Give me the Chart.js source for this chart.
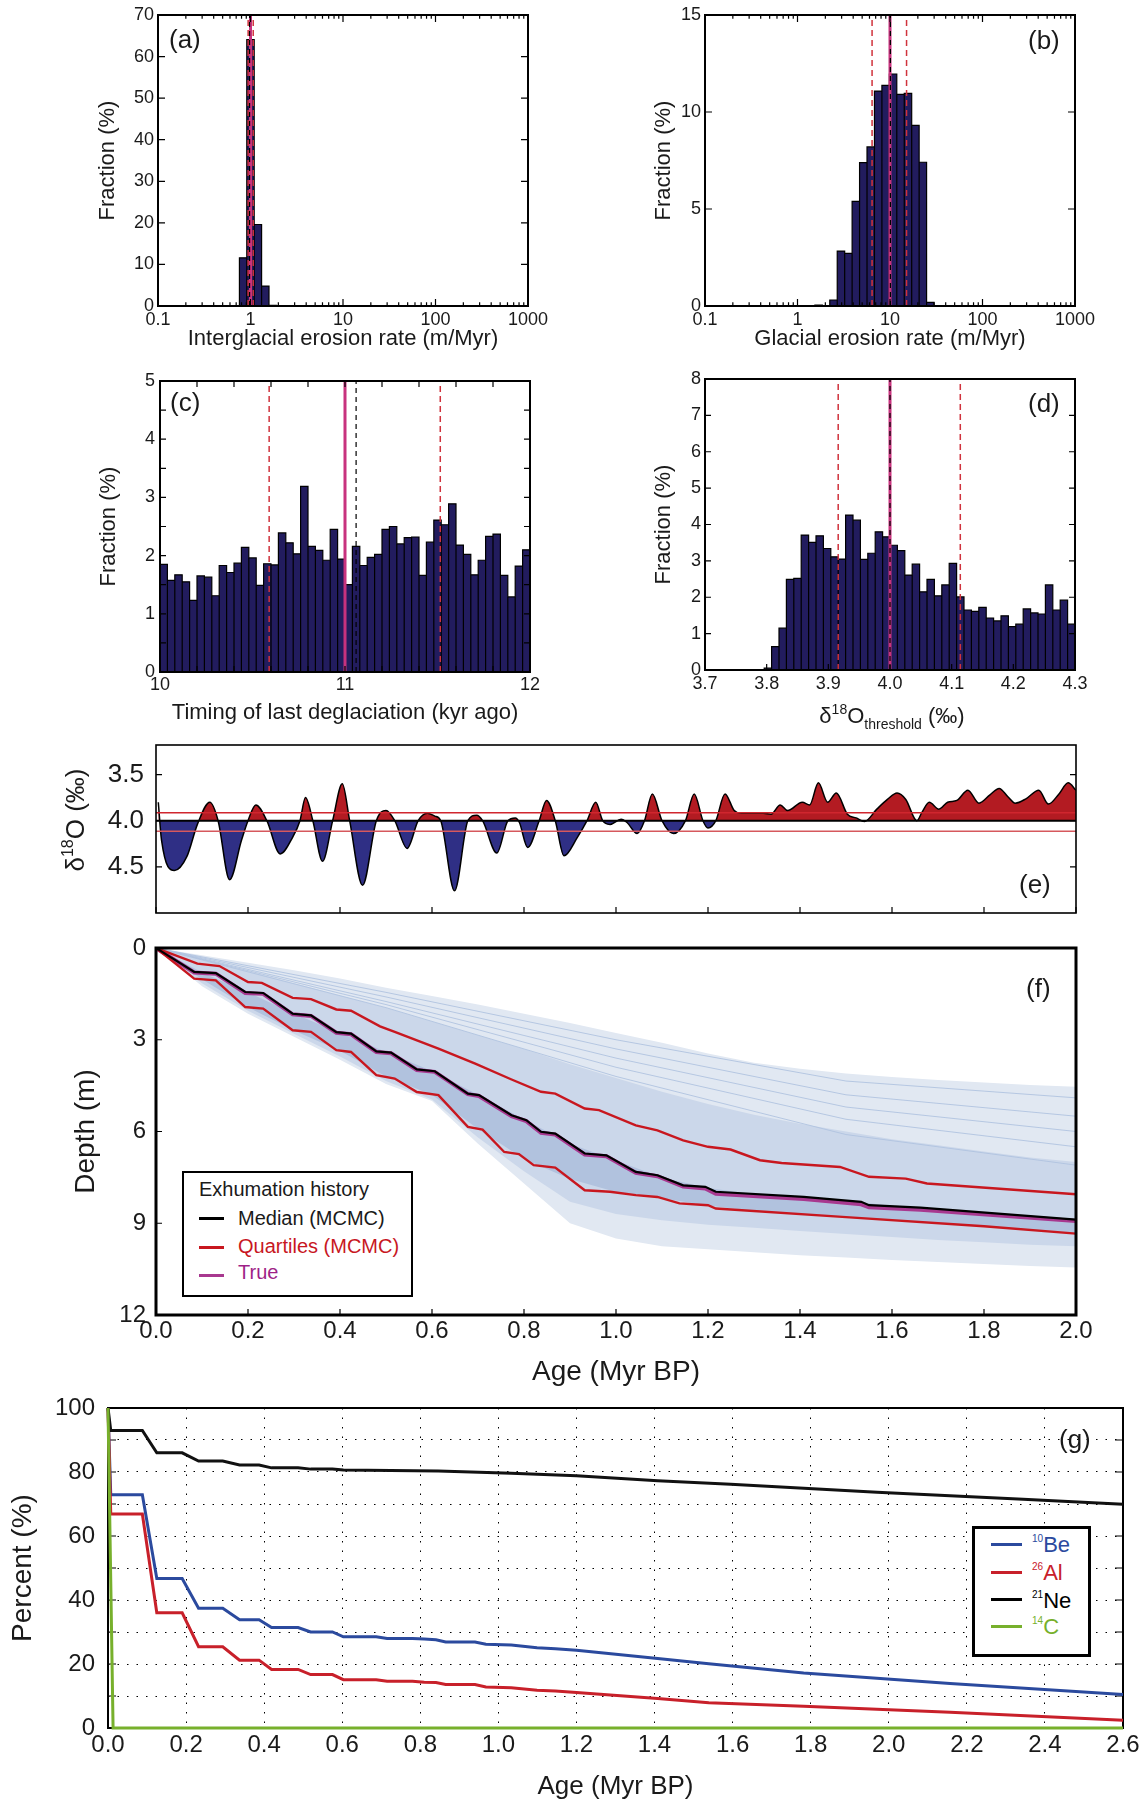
<!DOCTYPE html>
<html lang="en">
<head>
<meta charset="UTF-8">
<title>Exhumation history - MCMC results</title>
<script src="https://cdn.jsdelivr.net/npm/chart.js"></script>
<style>
  body { margin: 0; background: #fff; }
  #page { position: relative; width: 1145px; height: 1804px; overflow: hidden;
          font-family: 'Liberation Sans', Arial, sans-serif; color: #1a1a1a; }
  #page canvas { position: absolute; }
  .t { position: absolute; white-space: nowrap; }
  .tag { font-size: 26px; line-height: 26px; }
  .sw { position: absolute; height: 3px; }
  .sup { position: relative; }
</style>
</head>
<body>
<div id="page">
  <canvas id="ca" width="475" height="360" style="left:85px;top:0px"></canvas>
  <canvas id="cb" width="470" height="360" style="left:630px;top:0px"></canvas>
  <canvas id="cc" width="475" height="375" style="left:85px;top:365px"></canvas>
  <canvas id="cd" width="470" height="377" style="left:630px;top:363px"></canvas>
  <canvas id="ce" width="1145" height="228" style="left:0px;top:715px"></canvas>
  <canvas id="cf" width="1145" height="477" style="left:0px;top:923px"></canvas>
  <canvas id="cg" width="1145" height="424" style="left:0px;top:1380px"></canvas>

  <div class="t tag" style="left:169px;top:26px">(a)</div>
  <div class="t tag" style="left:1028px;top:27px">(b)</div>
  <div class="t tag" style="left:170px;top:389px">(c)</div>
  <div class="t tag" style="left:1028px;top:390px">(d)</div>
  <div class="t tag" style="left:1019px;top:871px">(e)</div>
  <div class="t tag" style="left:1026px;top:975px">(f)</div>
  <div class="t tag" style="left:1059px;top:1426px">(g)</div>

  <!-- axis titles with super/subscripts -->
  <div class="t" style="left:792px;top:705px;width:200px;text-align:center;font-size:22px;line-height:22px">&delta;<span class="sup" style="font-size:14px;top:-9px">18</span>O<span class="sup" style="font-size:14px;top:6px">threshold</span> (&permil;)</div>
  <div class="t" style="left:-23px;top:805px;width:200px;text-align:center;font-size:26px;line-height:26px;transform:rotate(-90deg)">&delta;<span class="sup" style="font-size:16px;top:-11px">18</span>O (&permil;)</div>

  <!-- legend (f) -->
  <div style="position:absolute;left:182px;top:1171px;width:231px;height:126px;border:2.5px solid #000;box-sizing:border-box;background:#fff"></div>
  <div class="t" style="left:199px;top:1179px;font-size:20px;line-height:20px">Exhumation history</div>
  <div class="sw" style="left:199px;top:1217px;width:25px;background:#000"></div>
  <div class="t" style="left:238px;top:1208px;font-size:20px;line-height:20px">Median (MCMC)</div>
  <div class="sw" style="left:199px;top:1246px;width:25px;background:#c8171f"></div>
  <div class="t" style="left:238px;top:1236px;font-size:20px;line-height:20px;color:#c8171f">Quartiles (MCMC)</div>
  <div class="sw" style="left:199px;top:1274px;width:25px;background:#a8388f"></div>
  <div class="t" style="left:238px;top:1262px;font-size:20px;line-height:20px;color:#9e1f87">True</div>

  <!-- legend (g) -->
  <div style="position:absolute;left:972px;top:1526px;width:119px;height:131px;border:3px solid #000;box-sizing:border-box;background:#fff"></div>
  <div class="sw" style="left:991px;top:1543px;width:31px;background:#2b4a9e"></div>
  <div class="t" style="left:1032px;top:1534px;font-size:22px;line-height:22px;color:#2b4a9e"><span class="sup" style="font-size:10px;top:-10px">10</span>Be</div>
  <div class="sw" style="left:991px;top:1571px;width:31px;background:#c8202a"></div>
  <div class="t" style="left:1032px;top:1562px;font-size:22px;line-height:22px;color:#c8202a"><span class="sup" style="font-size:10px;top:-10px">26</span>Al</div>
  <div class="sw" style="left:991px;top:1598px;width:31px;background:#000"></div>
  <div class="t" style="left:1032px;top:1590px;font-size:22px;line-height:22px;color:#000"><span class="sup" style="font-size:10px;top:-10px">21</span>Ne</div>
  <div class="sw" style="left:991px;top:1625px;width:31px;background:#77b02c"></div>
  <div class="t" style="left:1032px;top:1616px;font-size:22px;line-height:22px;color:#77b02c"><span class="sup" style="font-size:10px;top:-10px">14</span>C</div>
</div>

<script>
// ---- (a) interglacial erosion rate (m/Myr), log bins
var aEdges = [0.759, 0.912, 1.096, 1.318, 1.585, 1.905];
var aFraction = [11.6, 64.1, 19.6, 4.8, 0.15];
var aQuartiles = [0.943, 1.07];
var aMedian = 0.977;
var aTrue = 1.0;

// ---- (b) glacial erosion rate (m/Myr), log bins
var bEdges = [1.542, 1.856, 2.234, 2.689, 3.236, 3.895, 4.688, 5.643, 6.792, 8.175, 9.840,
              11.84, 14.26, 17.16, 20.65, 24.86, 29.92];
var bFraction = [0.05, 0, 0.31, 2.83, 2.71, 5.39, 7.39, 8.2, 11.08, 11.37, 11.96, 10.91, 10.96, 9.31, 7.41, 0.19];
var bQuartiles = [6.4, 15.1];
var bMedian = 10.1;
var bTrue = 10;

// ---- (c) timing of last deglaciation (kyr ago)
var cBinStart = 10, cBinWidth = 0.04;
var cFraction = [1.85, 1.575, 1.67, 1.55, 1.23, 1.65, 1.63, 1.31, 1.83, 1.71,
                 1.87, 2.14, 1.96, 1.49, 1.86, 1.84, 2.39, 2.22, 2.03, 3.19,
                 2.16, 2.09, 1.92, 2.45, 1.94, 1.5, 2.16, 1.83, 1.97, 2.02,
                 2.45, 2.5, 2.2, 2.31, 2.32, 1.66, 2.23, 2.61, 2.53, 2.89,
                 2.18, 2.02, 1.67, 1.92, 2.33, 2.37, 1.66, 1.29, 1.82, 2.1];
var cQuartiles = [10.59, 11.515];
var cMedian = 11.06;
var cTrue = 11.0;

// ---- (d) d18O threshold
var dBinStart = 3.7, dBinWidth = 0.012;
var dFraction = [0, 0, 0, 0, 0, 0, 0, 0, 0.05, 0.64,
                 1.15, 2.49, 2.52, 3.71, 3.51, 3.69, 3.34, 3.11, 3.05, 4.26,
                 4.12, 3.04, 3.21, 3.8, 3.66, 3.43, 3.28, 2.61, 2.91, 2.15,
                 2.49, 2.04, 2.34, 2.93, 2.01, 1.65, 1.61, 1.72, 1.43, 1.35,
                 1.49, 1.19, 1.26, 1.68, 1.57, 1.54, 2.34, 1.65, 1.92, 1.26];
var dQuartiles = [3.916, 4.114];
var dMedian = 4.0;
var dTrue = 4.0;

// ---- (e) d18O record
var eAge = [0.005, 0.012, 0.04, 0.067, 0.09, 0.117, 0.135, 0.16, 0.186, 0.2, 0.217, 0.241, 0.27, 0.297,
            0.313, 0.325, 0.341, 0.362, 0.384, 0.405, 0.421, 0.449, 0.479, 0.5, 0.519, 0.546, 0.57,
            0.59, 0.606, 0.619, 0.649, 0.678, 0.697, 0.71, 0.741, 0.765, 0.781, 0.79, 0.808, 0.833,
            0.849, 0.868, 0.887, 0.916, 0.937, 0.956, 0.971, 0.987, 1.011, 1.024, 1.046, 1.062, 1.079,
            1.1, 1.125, 1.151, 1.17, 1.189, 1.2, 1.217, 1.237, 1.257, 1.273, 1.297, 1.32, 1.337, 1.357,
            1.373, 1.405, 1.421, 1.44, 1.46, 1.479, 1.503, 1.522, 1.54, 1.567, 1.59, 1.611, 1.63, 1.654,
            1.665, 1.681, 1.702, 1.721, 1.741, 1.765, 1.789, 1.813, 1.833, 1.852, 1.868, 1.892, 1.919,
            1.94, 1.963, 1.983, 2.0];
var eD18O = [3.80, 4.21, 4.54, 4.39, 4.04, 3.80, 4.0, 4.64, 4.21, 4.0, 3.83, 4.0, 4.36, 4.18,
             4.0, 3.75, 4.0, 4.44, 4.0, 3.60, 4.0, 4.70, 4.0, 3.89, 4.0, 4.30, 4.0,
             3.92, 3.95, 4.0, 4.76, 4.0, 3.94, 4.0, 4.35, 4.0, 3.97, 4.02, 4.29, 4.0,
             3.78, 4.0, 4.38, 4.18, 4.0, 3.80, 4.0, 4.04, 3.985, 4.02, 4.14, 4.0, 3.71,
             4.0, 4.14, 4.0, 3.71, 4.0, 4.08, 4.0, 3.71, 3.89, 3.92, 3.92, 3.92, 3.93, 3.83,
             3.89, 3.80, 3.83, 3.59, 3.80, 3.70, 3.93, 3.97, 4.01, 3.875, 3.77, 3.70, 3.77, 4.0,
             3.91, 3.80, 3.875, 3.80, 3.78, 3.67, 3.81, 3.72, 3.65, 3.74, 3.81, 3.76, 3.67,
             3.82, 3.71, 3.59, 3.67];
var eThreshold = 4.0;
var eThresholdQ = [3.914, 4.114];

// ---- (f) exhumation history: depth (m) vs age (Myr)
var fMedian = [[0,0],[0.083,0.78],[0.13,0.82],[0.194,1.44],[0.233,1.47],[0.297,2.15],[0.337,2.2],
  [0.392,2.75],[0.424,2.8],[0.479,3.38],[0.511,3.42],[0.567,3.97],[0.606,4.03],[0.678,4.76],
  [0.702,4.81],[0.773,5.47],[0.805,5.63],[0.837,6.01],[0.868,6.07],[0.932,6.72],[0.979,6.78],
  [1.043,7.32],[1.09,7.43],[1.146,7.76],[1.194,7.81],[1.217,7.97],[1.408,8.14],[1.533,8.3],
  [1.55,8.41],[1.662,8.49],[2.0,8.88]];
var fTrue = [[0,0],[0.083,0.8],[0.13,0.84],[0.194,1.47],[0.233,1.5],[0.297,2.17],[0.337,2.22],
  [0.392,2.77],[0.424,2.82],[0.479,3.4],[0.511,3.44],[0.567,3.99],[0.606,4.05],[0.678,4.78],
  [0.702,4.84],[0.773,5.5],[0.805,5.66],[0.837,6.04],[0.868,6.1],[0.932,6.75],[0.979,6.81],
  [1.043,7.35],[1.09,7.46],[1.146,7.8],[1.194,7.86],[1.217,8.04],[1.408,8.21],[1.533,8.38],
  [1.55,8.48],[1.662,8.56],[2.0,8.93]];
var fUpperQ = [[0,0],[0.09,0.51],[0.138,0.59],[0.2,1.11],[0.23,1.14],[0.297,1.63],[0.337,1.67],
  [0.392,2.01],[0.424,2.05],[0.487,2.56],[0.519,2.74],[0.614,3.29],[0.694,3.78],[0.773,4.3],
  [0.837,4.7],[0.868,4.76],[0.932,5.25],[0.963,5.3],[1.043,5.8],[1.09,5.96],[1.146,6.29],
  [1.2,6.5],[1.249,6.59],[1.313,6.94],[1.36,7.03],[1.487,7.16],[1.55,7.48],[1.63,7.54],
  [1.676,7.7],[2.0,8.05]];
var fLowerQ = [[0,0],[0.083,1.0],[0.13,1.06],[0.194,1.93],[0.233,1.98],[0.297,2.69],[0.337,2.74],
  [0.392,3.34],[0.424,3.4],[0.479,4.16],[0.519,4.27],[0.567,4.71],[0.614,4.81],[0.678,5.85],
  [0.71,5.94],[0.757,6.67],[0.789,6.74],[0.821,7.1],[0.868,7.18],[0.932,7.92],[0.987,7.97],
  [1.043,8.08],[1.09,8.14],[1.138,8.35],[1.2,8.41],[1.217,8.52],[1.5,8.8],[1.8,9.1],[2.0,9.34]];
// ensemble cloud outlines on a common age grid
var fGridAge = [0, 0.1, 0.2, 0.3, 0.4, 0.5, 0.6, 0.7, 0.8, 0.9, 1.0, 1.1, 1.2, 1.3, 1.4, 1.5, 1.6, 1.7, 1.8, 1.9, 2.0];
var fCloudTop = [0, 0.24, 0.48, 0.73, 1.0, 1.3, 1.57, 1.85, 2.15, 2.45, 2.78, 3.1, 3.45, 3.75, 3.95, 4.1, 4.22, 4.32, 4.4, 4.48, 4.54];
var fCloudBottom = [0, 1.25, 2.15, 2.9, 3.65, 4.45, 5.0, 6.4, 7.7, 9.0, 9.5, 9.75, 9.85, 9.95, 10.05, 10.12, 10.2, 10.27, 10.33, 10.4, 10.45];
var fDenseTop = [0, 0.35, 0.75, 1.15, 1.55, 1.95, 2.4, 2.85, 3.3, 3.8, 4.25, 4.7, 5.1, 5.45, 5.75, 6.0, 6.25, 6.45, 6.65, 6.85, 7.0];
var fDenseBottom = [0, 1.15, 2.05, 2.8, 3.55, 4.35, 4.95, 6.2, 7.3, 8.3, 8.7, 8.9, 9.05, 9.15, 9.25, 9.35, 9.45, 9.55, 9.62, 9.7, 9.75];
var fCoreTop = [0, 0.8, 1.45, 2.15, 2.77, 3.4, 4.02, 4.8, 5.6, 6.4, 6.95, 7.5, 7.85, 8.05, 8.13, 8.25, 8.44, 8.53, 8.65, 8.76, 8.88];
var fCoreBottom = [0, 1.02, 1.94, 2.7, 3.36, 4.2, 4.8, 5.92, 6.9, 7.55, 7.98, 8.18, 8.42, 8.6, 8.7, 8.8, 8.9, 9.0, 9.1, 9.22, 9.34];
var fStrandAge = [0, 0.5, 1.0, 1.5, 2.0];
var fStrands = [[0, 1.45, 3.0, 4.35, 4.9], [0, 1.6, 3.3, 4.8, 5.5], [0, 1.75, 3.6, 5.2, 6.0],
                [0, 1.85, 3.9, 5.6, 6.5], [0, 1.95, 4.2, 6.1, 7.1]];

// ---- (g) percent remaining vs age (Myr)
var gBe10 = [[0,100],[0.007,72.9],[0.088,72.9],[0.125,46.7],[0.19,46.7],[0.232,37.4],[0.294,37.4],
  [0.337,33.8],[0.387,33.8],[0.419,31.4],[0.487,31.4],[0.519,30.0],[0.575,30.0],[0.603,28.5],
  [0.687,28.5],[0.715,28.0],[0.78,28.0],[0.81,27.8],[0.84,27.6],[0.865,26.9],[0.94,26.9],
  [0.968,26.2],[1.033,25.9],[1.099,25.05],[1.146,24.8],[1.2,24.3],[1.408,21.7],[1.539,20.1],
  [1.782,17.2],[2.157,13.9],[2.6,10.5]];
var gAl26 = [[0,100],[0.007,66.9],[0.088,66.9],[0.125,36.0],[0.19,36.0],[0.232,25.4],[0.294,25.4],
  [0.337,21.2],[0.387,21.2],[0.419,18.3],[0.487,18.3],[0.519,16.7],[0.575,16.7],[0.603,15.1],
  [0.687,15.1],[0.715,14.6],[0.78,14.6],[0.81,14.3],[0.84,14.2],[0.865,13.6],[0.94,13.6],
  [0.968,12.8],[1.033,12.6],[1.099,11.8],[1.146,11.6],[1.2,11.1],[1.408,9.2],[1.539,7.9],
  [1.782,6.8],[2.157,4.9],[2.6,2.4]];
var gNe21 = [[0,100],[0.007,93],[0.088,93],[0.125,86],[0.19,86],[0.232,83.4],[0.294,83.4],
  [0.337,82.2],[0.387,82.2],[0.419,81.3],[0.487,81.3],[0.519,80.9],[0.575,80.9],[0.603,80.6],
  [0.846,80.3],[1.033,79.6],[1.2,78.8],[1.408,77.3],[1.595,76.2],[1.97,73.7],[2.344,71.5],[2.6,69.9]];
var gC14 = [[0,100],[0.013,0],[2.6,0]];

// ---- tick marks / labels
var logTicks = [];
[0.1, 1, 10, 100].forEach(function (d) {
  [1, 2, 3, 4, 5, 6, 7, 8, 9].forEach(function (m) { logTicks.push(d * m); });
});
logTicks.push(1000);
var logLabels = [0.1, 1, 10, 100, 1000];
var aYTicks = [0, 10, 20, 30, 40, 50, 60, 70];
var bYTicks = [0, 5, 10, 15];
var cXTicks = [10, 10.2, 10.4, 10.6, 10.8, 11, 11.2, 11.4, 11.6, 11.8, 12];
var cXLabels = [10, 11, 12];
var cYTicks = [0, 0.5, 1, 1.5, 2, 2.5, 3, 3.5, 4, 4.5, 5];
var cYLabels = [0, 1, 2, 3, 4, 5];
var dXTicks = [3.7, 3.8, 3.9, 4.0, 4.1, 4.2, 4.3];
var dYTicks = [0, 1, 2, 3, 4, 5, 6, 7, 8];
var eYTicks = [3.5, 4.0, 4.5];
var ageTicks2 = [0, 0.2, 0.4, 0.6, 0.8, 1.0, 1.2, 1.4, 1.6, 1.8, 2.0];
var fYTicks = [0, 3, 6, 9, 12];
var ageTicks26 = [0, 0.2, 0.4, 0.6, 0.8, 1.0, 1.2, 1.4, 1.6, 1.8, 2.0, 2.2, 2.4, 2.6];
var gYTicks = [0, 10, 20, 30, 40, 50, 60, 70, 80, 90, 100];
var gYLabels = [0, 20, 40, 60, 80, 100];

var ink = '#1a1a1a';
var barInk = '#221c5e';
var qRed = '#d0323c';
var magenta = '#c8327e';

Chart.defaults.font.family = "'Liberation Sans', Arial, sans-serif";
Chart.defaults.color = ink;

// box frame + inward tick marks, MATLAB style
function drawBox(chart, o) {
  var ctx = chart.ctx, a = chart.chartArea, sx = chart.scales.x, sy = chart.scales.y;
  var L = o.tick || 7;
  ctx.save();
  ctx.strokeStyle = '#000';
  ctx.lineWidth = 1.2;
  ctx.beginPath();
  sx.ticks.forEach(function (t) {
    var p = sx.getPixelForValue(t.value);
    var len = (o.minor && t.label === '') ? L * 0.55 : L;
    if (o.xBottom !== false) { ctx.moveTo(p, a.bottom); ctx.lineTo(p, a.bottom - len); }
    if (o.xTop) { ctx.moveTo(p, a.top); ctx.lineTo(p, a.top + len); }
  });
  sy.ticks.forEach(function (t) {
    var p = sy.getPixelForValue(t.value);
    if (o.yLeft !== false) { ctx.moveTo(a.left, p); ctx.lineTo(a.left + L, p); }
    if (o.yRight) { ctx.moveTo(a.right, p); ctx.lineTo(a.right - L, p); }
  });
  ctx.stroke();
  ctx.lineWidth = o.lw || 2;
  ctx.strokeRect(a.left, a.top, a.right - a.left, a.bottom - a.top);
  ctx.restore();
}
Chart.register({
  id: 'box',
  beforeDatasetsDraw: function (chart, args, o) { if (o.under) drawBox(chart, o); },
  afterDatasetsDraw: function (chart, args, o) { if (!o.under) drawBox(chart, o); }
});

function within(list, v) {
  return list.some(function (l) { return Math.abs(l - v) < 1e-9; });
}
function plain(v) { return String(+v.toFixed(4)); }
function oneDec(v) { return v.toFixed(1); }

function axis(o) {
  var horiz = o.pos === 'bottom';
  return {
    type: o.type || 'linear', position: o.pos, min: o.min, max: o.max, reverse: !!o.reverse,
    grid: o.grid || {display: false, drawTicks: false},
    border: o.border || {display: false},
    afterBuildTicks: function (s) { s.ticks = o.ticks.map(function (v) { return {value: v}; }); },
    afterFit: function (s) { if (horiz) { s.height = o.size; } else { s.width = o.size; } },
    ticks: {
      autoSkip: false, maxRotation: 0, minRotation: 0, padding: o.pad, color: ink,
      font: {size: o.font},
      callback: function (v) { return within(o.labels, v) ? o.fmt(v) : ''; }
    },
    title: {
      display: !!o.title, text: o.title || '', color: ink, font: {size: o.titleFont || 22},
      padding: {top: o.titlePad || 0, bottom: o.titlePad || 0}
    }
  };
}

function pairs(list) { return list.map(function (p) { return {x: p[0], y: p[1]}; }); }
function zip(xs, ys) { return xs.map(function (x, i) { return {x: x, y: ys[i]}; }); }
function series(data, color, width, extra) {
  var d = {data: data, borderColor: color, borderWidth: width, pointRadius: 0, fill: false, tension: 0};
  for (var k in extra) { d[k] = extra[k]; }
  return d;
}
function binEdges(start, width, n) {
  var e = [];
  for (var i = 0; i <= n; i++) { e.push(start + i * width); }
  return e;
}
function histogram(edges, vals) {
  var p = [];
  vals.forEach(function (v, i) {
    p.push({x: edges[i], y: 0}, {x: edges[i], y: v}, {x: edges[i + 1], y: v}, {x: edges[i + 1], y: 0});
  });
  return series(p, '#000', 1.2, {fill: 'origin', backgroundColor: barInk});
}
function markers(q, med, tru, ymax) {
  return [
    series(pairs([[med, 0], [med, ymax]]), '#000', 1.2, {borderDash: [5, 4]}),
    series(pairs([[tru, 0], [tru, ymax]]), magenta, 3),
    series(pairs([[q[0], 0], [q[0], ymax]]), qRed, 1.5, {borderDash: [6, 4]}),
    series(pairs([[q[1], 0], [q[1], ymax]]), qRed, 1.5, {borderDash: [6, 4]})
  ];
}

function draw(id, padTop, padRight, datasets, xAxis, yAxis, box) {
  return new Chart(document.getElementById(id), {
    type: 'line',
    data: {datasets: datasets},
    options: {
      responsive: false, animation: false, events: [],
      layout: {padding: {top: padTop, right: padRight, left: 0, bottom: 0}},
      plugins: {legend: {display: false}, tooltip: {enabled: false}, box: box},
      scales: {x: xAxis, y: yAxis}
    }
  });
}

// (a)
draw('ca', 15, 32,
  markers(aQuartiles, aMedian, aTrue, 70).concat([histogram(aEdges, aFraction)]),
  axis({pos: 'bottom', type: 'logarithmic', min: 0.1, max: 1000, ticks: logTicks, labels: logLabels,
        fmt: plain, font: 18, pad: 3, size: 54, title: 'Interglacial erosion rate (m/Myr)', titlePad: 7.8}),
  axis({pos: 'left', min: 0, max: 70, ticks: aYTicks, labels: aYTicks, fmt: plain, font: 18, pad: 4,
        size: 73, title: 'Fraction (%)', titlePad: 9.8}),
  {xTop: true, yRight: true, minor: true});

// (b)
draw('cb', 15, 25,
  markers(bQuartiles, bMedian, bTrue, 15).concat([histogram(bEdges, bFraction)]),
  axis({pos: 'bottom', type: 'logarithmic', min: 0.1, max: 1000, ticks: logTicks, labels: logLabels,
        fmt: plain, font: 18, pad: 3, size: 54, title: 'Glacial erosion rate (m/Myr)', titlePad: 7.8}),
  axis({pos: 'left', min: 0, max: 15, ticks: bYTicks, labels: bYTicks, fmt: plain, font: 18, pad: 4,
        size: 75, title: 'Fraction (%)', titlePad: 20.8}),
  {xTop: true, yRight: true, minor: true});

// (c)
draw('cc', 16, 30,
  markers(cQuartiles, cMedian, cTrue, 5).concat([histogram(binEdges(cBinStart, cBinWidth, cFraction.length), cFraction)]),
  axis({pos: 'bottom', min: 10, max: 12, ticks: cXTicks, labels: cXLabels, fmt: plain, font: 18, pad: 2,
        size: 68, title: 'Timing of last deglaciation (kyr ago)', titlePad: 13.8}),
  axis({pos: 'left', min: 0, max: 5, ticks: cYTicks, labels: cYLabels, fmt: plain, font: 18, pad: 5,
        size: 75, title: 'Fraction (%)', titlePad: 10.3}),
  {xTop: true, yRight: true, tick: 6});

// (d)
draw('cd', 16, 25,
  markers(dQuartiles, dMedian, dTrue, 8).concat([histogram(binEdges(dBinStart, dBinWidth, dFraction.length), dFraction)]),
  axis({pos: 'bottom', min: 3.7, max: 4.3, ticks: dXTicks, labels: dXTicks, fmt: oneDec, font: 18, pad: 3,
        size: 70}),
  axis({pos: 'left', min: 0, max: 8, ticks: dYTicks, labels: dYTicks, fmt: plain, font: 18, pad: 4,
        size: 75, title: 'Fraction (%)', titlePad: 20.3}),
  {yRight: true, tick: 6});

// (e)
draw('ce', 30, 69, [
    series(pairs([[0, eThreshold], [2, eThreshold]]), '#000', 2),
    series(pairs([[0, eThresholdQ[0]], [2, eThresholdQ[0]]]), '#d0262e', 1.5),
    series(pairs([[0, eThresholdQ[1]], [2, eThresholdQ[1]]]), '#d6585d', 1.5),
    series(zip(eAge, eD18O), '#000', 1.5, {
      cubicInterpolationMode: 'monotone',
      fill: {target: {value: eThreshold}, above: '#b31b22', below: '#2f2f85'}
    })
  ],
  axis({pos: 'bottom', min: 0, max: 2, ticks: ageTicks2, labels: [], fmt: oneDec, font: 10, pad: 0, size: 30}),
  axis({pos: 'left', min: 3.18, max: 5.0, reverse: true, ticks: eYTicks, labels: eYTicks, fmt: oneDec,
        font: 26, pad: 12, size: 156}),
  {yRight: true, tick: 6, lw: 1.6});

// (f)
var fBandColors = ['#e1e8f2', '#cbd7ea', '#b1c2de'];
var fBands = [[fCloudTop, fCloudBottom], [fDenseTop, fDenseBottom], [fCoreTop, fCoreBottom]];
var fSets = [
  series(pairs(fMedian), '#000', 2.2),
  series(pairs(fUpperQ), '#c8171f', 2.4),
  series(pairs(fLowerQ), '#c8171f', 2.4),
  series(pairs(fTrue), '#a8388f', 4)
];
fStrands.forEach(function (s) {
  fSets.push(series(zip(fStrandAge, s), 'rgba(176,195,224,0.9)', 1));
});
for (var bi = fBands.length - 1; bi >= 0; bi--) {
  fSets.push(series(zip(fGridAge, fBands[bi][0]), 'rgba(0,0,0,0)', 0));
  fSets.push(series(zip(fGridAge, fBands[bi][1]), 'rgba(0,0,0,0)', 0,
    {fill: '-1', backgroundColor: fBandColors[bi]}));
}
draw('cf', 25, 69, fSets,
  axis({pos: 'bottom', min: 0, max: 2, ticks: ageTicks2, labels: ageTicks2, fmt: oneDec, font: 24, pad: 2,
        size: 85, title: 'Age (Myr BP)', titleFont: 28, titlePad: 11.2}),
  axis({pos: 'left', min: 0, max: 12, reverse: true, ticks: fYTicks, labels: fYTicks, fmt: plain, font: 24,
        pad: 10, size: 156, title: 'Depth (m)', titleFont: 28, titlePad: 69.2}),
  {tick: 6, lw: 3});

// (g)
var dotted = {display: true, drawTicks: false, color: '#000', lineWidth: 1};
draw('cg', 28, 22, [
    series(pairs(gC14), '#77b02c', 3, {clip: false}),
    series(pairs(gNe21), '#111', 3, {clip: false}),
    series(pairs(gAl26), '#c8202a', 3, {clip: false}),
    series(pairs(gBe10), '#2b4a9e', 3, {clip: false})
  ],
  axis({pos: 'bottom', min: 0, max: 2.6, ticks: ageTicks26, labels: ageTicks26, fmt: oneDec, font: 24, pad: 3,
        size: 76, title: 'Age (Myr BP)', titleFont: 26, titlePad: 1.4,
        grid: dotted, border: {display: false, dash: [1.5, 8]}}),
  axis({pos: 'left', min: 0, max: 100, ticks: gYTicks, labels: gYLabels, fmt: plain, font: 24, pad: 13,
        size: 108, title: 'Percent (%)', titleFont: 28, titlePad: 6.7,
        grid: dotted, border: {display: false, dash: [1.5, 8]}}),
  {under: true, xBottom: false, yRight: true, tick: 8, lw: 2});
</script>
</body>
</html>
